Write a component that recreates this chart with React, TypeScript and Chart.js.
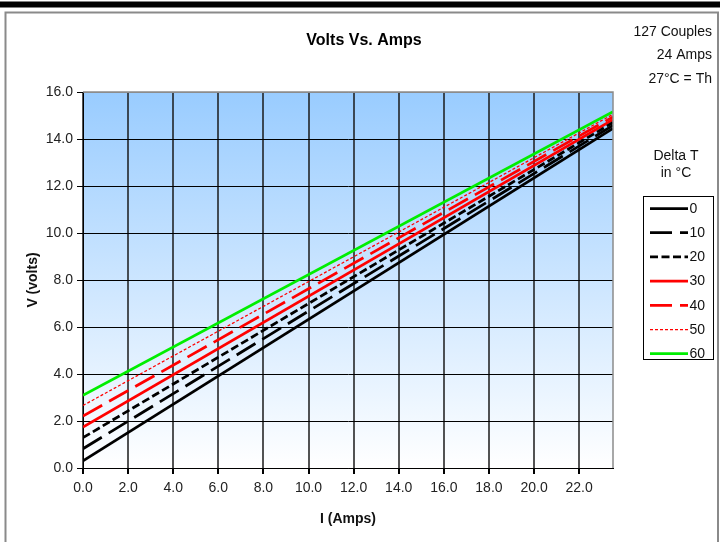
import React, { useEffect, useRef } from "react";
import { Chart, registerables } from "chart.js";

Chart.register(...registerables);

// ---- data ----
const currentAmps = [0, 23.5];
const deltaTLabels = ["0", "10", "20", "30", "40", "50", "60"];
const volts0 = [0.3, 14.45];
const volts10 = [0.82, 14.58];
const volts20 = [1.29, 14.7];
const volts30 = [1.74, 14.82];
const volts40 = [2.21, 14.94];
const volts50 = [2.66, 15.05];
const volts60 = [3.09, 15.16];
const xTickValues = [0, 2, 4, 6, 8, 10, 12, 14, 16, 18, 20, 22];
const yTickValues = [0, 2, 4, 6, 8, 10, 12, 14, 16];
const infoLines = ["127 Couples", "24 Amps", "27°C = Th"];
const chartTitle = "Volts Vs. Amps";
const legendTitle = ["Delta T", "in °C"];
const xTitle = "I (Amps)";
const yTitle = "V (volts)";

const seriesValues = [volts0, volts10, volts20, volts30, volts40, volts50, volts60];

// ---- styles ----
const FONT = "Arial, 'Liberation Sans', sans-serif";
const seriesStyles = [
  { color: "#000000", dash: [] as number[], width: 2.75 },
  { color: "#000000", dash: [22, 8], width: 2.75 },
  { color: "#000000", dash: [8, 3.5], width: 2.75 },
  { color: "#ff0000", dash: [] as number[], width: 2.75 },
  { color: "#ff0000", dash: [22, 8], width: 2.75 },
  { color: "#ff0000", dash: [3, 2], width: 1.25 },
  { color: "#00ee00", dash: [] as number[], width: 2.75 },
];

const decorPlugin = {
  id: "decor",
  beforeDraw(chart: any) {
    const { ctx, chartArea, width, height } = chart;
    ctx.save();
    ctx.fillStyle = "#ffffff";
    ctx.fillRect(0, 0, width, height);
    const g = ctx.createLinearGradient(0, chartArea.top, 0, chartArea.bottom);
    g.addColorStop(0, "#99ccff");
    g.addColorStop(1, "#ffffff");
    ctx.fillStyle = g;
    ctx.fillRect(chartArea.left, chartArea.top, chartArea.right - chartArea.left, chartArea.bottom - chartArea.top);
    ctx.restore();
  },
  afterDraw(chart: any) {
    const { ctx, chartArea } = chart;
    ctx.save();
    // plot border (top / right)
    ctx.strokeStyle = "#8c8c8c";
    ctx.lineWidth = 1.5;
    ctx.beginPath();
    ctx.moveTo(chartArea.left, chartArea.top);
    ctx.lineTo(chartArea.right, chartArea.top);
    ctx.lineTo(chartArea.right, chartArea.bottom);
    ctx.stroke();

    // page frame
    ctx.fillStyle = "#000000";
    ctx.fillRect(0, 1.5, 720, 6);
    ctx.strokeStyle = "#8a8a8a";
    ctx.lineWidth = 2;
    ctx.beginPath();
    ctx.moveTo(5.5, 545);
    ctx.lineTo(5.5, 12.5);
    ctx.lineTo(718, 12.5);
    ctx.lineTo(718, 545);
    ctx.stroke();

    // title
    ctx.fillStyle = "#000000";
    ctx.font = `bold 16px ${FONT}`;
    ctx.textAlign = "center";
    ctx.textBaseline = "middle";
    ctx.fillText(chartTitle, 364, 41);

    // info lines
    ctx.font = `14px ${FONT}`;
    ctx.textAlign = "right";
    ctx.fillStyle = "#111111";
    infoLines.forEach((t, i) => ctx.fillText(t, 712, 32 + i * 23.5));

    // legend
    ctx.textAlign = "center";
    legendTitle.forEach((t, i) => ctx.fillText(t, 676, 156 + i * 17));
    ctx.fillStyle = "#ffffff";
    ctx.fillRect(643, 196, 70, 163);
    ctx.strokeStyle = "#000000";
    ctx.lineWidth = 1;
    ctx.strokeRect(643.5, 196.5, 70, 163);
    chart.data.datasets.forEach((ds: any, i: number) => {
      const y = 208.5 + i * 24.2;
      ctx.save();
      ctx.strokeStyle = ds.borderColor;
      ctx.lineWidth = ds.borderWidth;
      ctx.setLineDash(ds.borderDash || []);
      ctx.beginPath();
      ctx.moveTo(650, y);
      ctx.lineTo(688, y);
      ctx.stroke();
      ctx.restore();
      ctx.fillStyle = "#111111";
      ctx.textAlign = "left";
      ctx.font = `14px ${FONT}`;
      ctx.fillText(ds.label, 689.5, y + 0.5);
    });
    ctx.restore();
  },
};

export default function App() {
  const ref = useRef<HTMLCanvasElement | null>(null);
  useEffect(() => {
    if (!ref.current) return;
    const datasets = seriesValues.map((vals, i) => ({
      label: deltaTLabels[i],
      data: currentAmps.map((x, j) => ({ x, y: vals[j] })),
      borderColor: seriesStyles[i].color,
      backgroundColor: seriesStyles[i].color,
      borderDash: seriesStyles[i].dash,
      borderWidth: seriesStyles[i].width,
      pointRadius: 0,
      fill: false,
      tension: 0,
      borderCapStyle: "butt",
    }));
    const chart = new Chart(ref.current, {
      type: "line",
      data: { datasets },
      plugins: [decorPlugin],
      options: {
        animation: false,
        responsive: false,
        devicePixelRatio: 1,
        layout: { padding: { left: 21, right: 110, top: 92, bottom: 10.6 } },
        plugins: { legend: { display: false }, title: { display: false }, tooltip: { enabled: false } },
        scales: {
          x: {
            type: "linear",
            min: 0,
            max: 23.5,
            afterFit: (s: any) => { s.height = 63.4; },
            afterBuildTicks: (s: any) => { s.ticks = xTickValues.map((v) => ({ value: v })); },
            ticks: { font: { family: FONT, size: 14 }, color: "#222222", padding: 6, maxRotation: 0, callback: (v: any) => Number(v).toFixed(1) },
            grid: { color: "rgba(25,25,25,0.75)", lineWidth: 2, tickColor: "#000000", tickLength: 6 },
            border: { color: "#000000", width: 1 },
            title: { display: true, text: xTitle, font: { family: FONT, size: 14, weight: "bold" }, color: "#111111", padding: { top: 4, bottom: 4 } },
          },
          y: {
            type: "linear",
            min: 0,
            max: 16,
            afterFit: (s: any) => { s.width = 62; },
            afterBuildTicks: (s: any) => { s.ticks = yTickValues.map((v) => ({ value: v })); },
            ticks: { font: { family: FONT, size: 14 }, color: "#222222", padding: 4, callback: (v: any) => Number(v).toFixed(1) },
            grid: { color: (c: any) => (c.tick && c.tick.value === 16 ? "#8c8c8c" : "#000000"), lineWidth: 1, tickColor: "#000000", tickLength: 6 },
            border: { color: "#000000", width: 1 },
            title: { display: true, text: yTitle, font: { family: FONT, size: 14, weight: "bold" }, color: "#111111", padding: { top: 4, bottom: 4 } },
          },
        },
      },
    } as any);
    return () => chart.destroy();
  }, []);
  return (
    <div style={{ position: "fixed", left: 0, top: 0, width: 723, height: 542, background: "#fff" }}>
      <canvas ref={ref} width={723} height={542} style={{ display: "block", width: 723, height: 542 }} />
    </div>
  );
}
